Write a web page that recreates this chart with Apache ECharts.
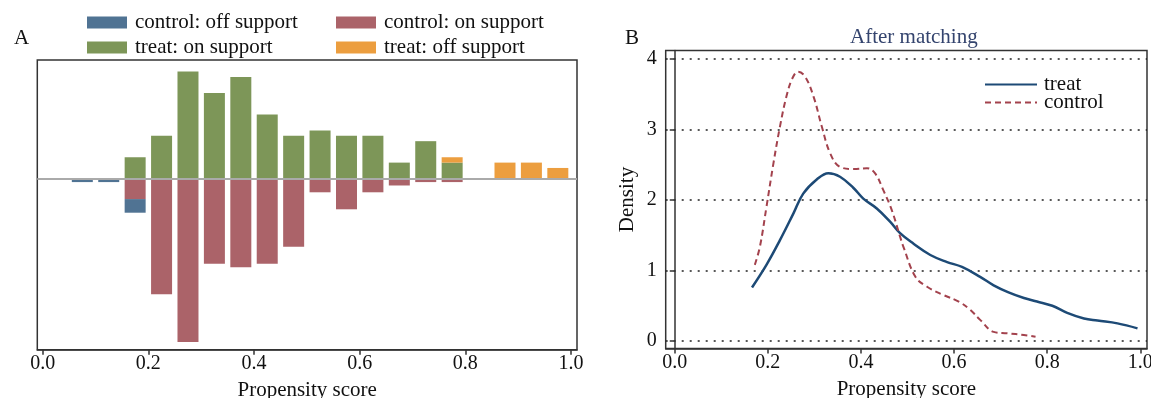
<!DOCTYPE html>
<html>
<head>
<meta charset="utf-8">
<script src="https://cdn.jsdelivr.net/npm/echarts@6/dist/echarts.min.js"></script>
<style>
  html, body { margin: 0; padding: 0; background: #fff; }
  #chart { width: 1151px; height: 398px; }
</style>
</head>
<body>
<div id="chart"></div>
<script>
// histogram bins (width 0.05), counts
const binCenters = [0.075, 0.125, 0.175, 0.225, 0.275, 0.325, 0.375, 0.425, 0.475, 0.525,
                    0.575, 0.625, 0.675, 0.725, 0.775, 0.825, 0.875, 0.925, 0.975];
const treatOn    = [0, 0, 4, 8, 20, 16, 19, 12, 8, 9, 8, 8, 3, 7, 3, 0, 0, 0, 0];
const treatOff   = [0, 0, 0, 0, 0, 0, 0, 0, 0, 0, 0, 0, 0, 0, 1, 0, 3, 3, 2];
const controlOn  = [0, 0, 6, 34, 48, 25, 26, 25, 20, 4, 9, 4, 2, 1, 1, 0, 0, 0, 0];
const controlOff = [1, 1, 4, 0, 0, 0, 0, 0, 0, 0, 0, 0, 0, 0, 0, 0, 0, 0, 0];

const xTicks = [0, 0.2, 0.4, 0.6, 0.8, 1.0];
const densityTicks = [0, 1, 2, 3, 4];

// panel B, density curves after matching
const treatDensity = [
  [0.166, 0.76], [0.197, 1.08], [0.226, 1.43], [0.255, 1.81], [0.276, 2.09], [0.305, 2.29],
  [0.330, 2.38], [0.355, 2.33], [0.384, 2.17], [0.405, 2.02], [0.434, 1.88], [0.463, 1.69],
  [0.484, 1.53], [0.513, 1.38], [0.549, 1.22], [0.585, 1.12], [0.617, 1.05], [0.656, 0.91],
  [0.685, 0.79], [0.717, 0.69], [0.750, 0.61], [0.778, 0.56], [0.811, 0.50], [0.843, 0.40],
  [0.879, 0.32], [0.908, 0.29], [0.951, 0.25], [0.994, 0.18]
];
const controlDensity = [
  [0.172, 1.08], [0.183, 1.34], [0.197, 1.90], [0.212, 2.52], [0.226, 3.04], [0.240, 3.47],
  [0.253, 3.73], [0.265, 3.82], [0.280, 3.75], [0.298, 3.47], [0.316, 3.04], [0.334, 2.66],
  [0.355, 2.47], [0.384, 2.44], [0.413, 2.45], [0.430, 2.38], [0.448, 2.14], [0.466, 1.86],
  [0.484, 1.48], [0.491, 1.34], [0.517, 0.91], [0.542, 0.77], [0.578, 0.65], [0.610, 0.56],
  [0.635, 0.44], [0.656, 0.30], [0.685, 0.13], [0.714, 0.11], [0.750, 0.085], [0.775, 0.06]
];

const FONT = 'Liberation Serif';
const INK = '#111';

function sum(arr) { return arr.reduce((a, b) => a + b, 0); }

const treatTotal = sum(treatOn) + sum(treatOff);
const controlTotal = sum(controlOn) + sum(controlOff);

// share of each group per bin, control drawn downward.
// value goes first so that the stack runs on y, not on the x value axis
function share(counts, total, sign) {
  return counts.map((c, i) => [sign * c / total, binCenters[i]]);
}

function legendItem(name, left, top) {
  return {
    data: [name], left: left, top: top, orient: 'horizontal',
    icon: 'rect', itemWidth: 40, itemHeight: 12, itemGap: 13,
    selectedMode: false,
    textStyle: { fontFamily: FONT, fontSize: 21, color: INK, padding: [0, 0, 0, 3] }
  };
}

function xAxisFor(gridIndex, min, max) {
  return {
    type: 'value', gridIndex: gridIndex, min: min, max: max,
    name: 'Propensity score', nameLocation: 'middle', nameGap: 30,
    nameTextStyle: { fontFamily: FONT, fontSize: 21, color: INK },
    axisLine: { show: true, onZero: false, lineStyle: { color: '#333', width: 1.5 } },
    axisTick: { show: true, length: 5, customValues: xTicks, lineStyle: { color: '#333', width: 1.5 } },
    axisLabel: {
      customValues: xTicks, margin: 4, fontFamily: FONT, fontSize: 20, color: INK,
      formatter: v => v.toFixed(1)
    },
    splitLine: { show: false }
  };
}

const bar = (name, data, color) => ({
  name: name, type: 'bar', stack: 'hist', xAxisIndex: 0, yAxisIndex: 0,
  encode: { x: 1, y: 0 },
  barWidth: 21, data: data,
  itemStyle: { color: color, opacity: 0.95 }
});

const chart = echarts.init(document.getElementById('chart'));
chart.setOption({
  animation: false,
  backgroundColor: '#fff',
  textStyle: { fontFamily: FONT },
  title: [
    { text: 'A', left: 9, top: 23, textStyle: { fontFamily: FONT, fontSize: 21, fontWeight: 'normal', color: INK } },
    { text: 'B', left: 620, top: 23, textStyle: { fontFamily: FONT, fontSize: 21, fontWeight: 'normal', color: INK } },
    { text: 'After matching', left: 845, top: 22, textStyle: { fontFamily: FONT, fontSize: 21, fontWeight: 'normal', color: '#34446e' } }
  ],
  legend: [
    legendItem('control: off support', 82, 7),
    legendItem('control: on support', 331, 7),
    legendItem('treat: on support', 82, 32),
    legendItem('treat: off support', 331, 32),
    {
      data: ['treat', 'control'], left: 979, top: 69, orient: 'vertical',
      itemWidth: 52, itemHeight: 14, itemGap: -3, selectedMode: false,
      itemStyle: { opacity: 0 },
      textStyle: { fontFamily: FONT, fontSize: 21, color: INK, padding: [0, 0, 0, 2] }
    }
  ],
  grid: [
    { left: 37.3, top: 60, width: 539.7, height: 289.7, show: true, borderColor: '#333', borderWidth: 1.5, outerBoundsMode: 'none' },
    { left: 665.7, top: 50.5, width: 481.3, height: 298, show: true, borderColor: '#333', borderWidth: 1.5, outerBoundsMode: 'none' }
  ],
  xAxis: [
    xAxisFor(0, -0.0102, 1.0113),
    xAxisFor(1, -0.0194, 1.0144)
  ],
  yAxis: [
    {
      type: 'value', gridIndex: 0, min: -0.2382, max: 0.1653,
      axisLine: { show: false }, axisTick: { show: false }, axisLabel: { show: false },
      splitLine: { show: false }
    },
    {
      type: 'value', gridIndex: 1, min: -0.106, max: 4.12,
      name: 'Density', nameLocation: 'middle', nameGap: 28,
      nameTextStyle: { fontFamily: FONT, fontSize: 21, color: INK },
      axisLine: { show: true, lineStyle: { color: '#333', width: 1.5 } },
      axisTick: { show: true, length: 5, customValues: densityTicks, lineStyle: { color: '#333', width: 1.5 } },
      axisLabel: { customValues: densityTicks, margin: 9, fontFamily: FONT, fontSize: 20, color: INK },
      splitLine: { show: true, lineStyle: { color: '#222', width: 1.5, type: [2, 6] } }
    }
  ],
  series: [
    bar('treat: on support', share(treatOn, treatTotal, 1), '#76904f'),
    bar('treat: off support', share(treatOff, treatTotal, 1), '#eb9935'),
    bar('control: on support', share(controlOn, controlTotal, -1), '#a75b61'),
    Object.assign(bar('control: off support', share(controlOff, controlTotal, -1), '#476b8d'), {
      markLine: {
        silent: true, symbol: 'none', label: { show: false },
        lineStyle: { color: '#aaaaaa', width: 2, type: 'solid' },
        data: [{ yAxis: 0 }]
      }
    }),
    {
      name: 'treat', type: 'line', xAxisIndex: 1, yAxisIndex: 1,
      data: treatDensity, smooth: 0.4, symbol: 'none',
      lineStyle: { color: '#1d4a76', width: 2.5 }, itemStyle: { color: '#1d4a76' }
    },
    {
      name: 'control', type: 'line', xAxisIndex: 1, yAxisIndex: 1,
      data: controlDensity, smooth: 0.4, symbol: 'none',
      lineStyle: { color: '#a3424d', width: 2, type: [6, 4] }, itemStyle: { color: '#a3424d' }
    }
  ]
});
</script>
</body>
</html>
